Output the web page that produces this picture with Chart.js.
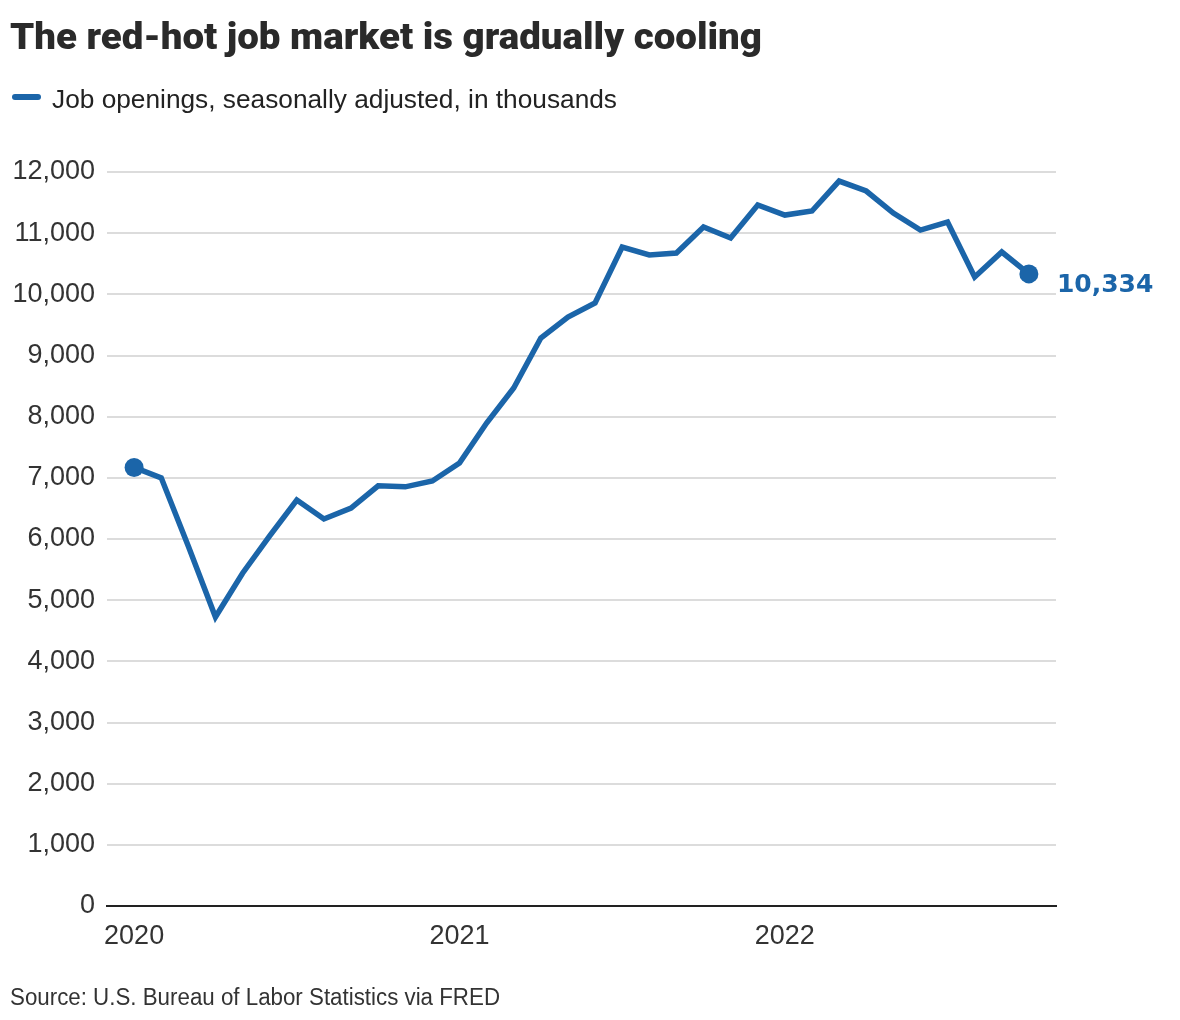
<!DOCTYPE html>
<html>
<head>
<meta charset="utf-8">
<script src="https://cdn.jsdelivr.net/npm/chart.js@4"></script>
<style>
  body { margin: 0; background: #fff; }
  #wrap { position: relative; width: 1180px; height: 1020px; overflow: hidden; }
  #chart { position: absolute; left: 0; top: 0; }
  .txt { position: absolute; white-space: nowrap; line-height: 1; color: #222; }
  #title { left: 10px; top: 15px; font: 900 37px Roboto, "Liberation Sans", sans-serif; color: #2a2a2a; transform-origin: 0 0; }
  #legend { left: 52px; top: 85px; font: 25px "Liberation Sans", sans-serif; transform-origin: 0 0; }
  #swatch { position: absolute; left: 12px; top: 94px; width: 29px; height: 6px; border-radius: 3px; background: #1b65a9; }
  #source { left: 10px; top: 984px; font: 23px "Liberation Sans", sans-serif; color: #333; transform-origin: 0 0; }
</style>
</head>
<body>
<div id="wrap">
  <canvas id="chart" width="1180" height="1020"></canvas>
  <div class="txt" id="title">The red-hot job market is gradually cooling</div>
  <div id="swatch"></div>
  <div class="txt" id="legend">Job openings, seasonally adjusted, in thousands</div>
  <div class="txt" id="source">Source: U.S. Bureau of Labor Statistics via FRED</div>
</div>
<script>
// months since Jan 2020 (0 = Jan 2020 ... 33 = Oct 2022)
const months = [0, 1, 2, 3, 4, 5, 6, 7, 8, 9, 10, 11,
                12, 13, 14, 15, 16, 17, 18, 19, 20, 21, 22, 23,
                24, 25, 26, 27, 28, 29, 30, 31, 32, 33];
// job openings, thousands
const openings = [7170, 7000, 5880, 4725, 5440, 6050, 6637, 6327, 6506, 6870, 6853, 6948,
                  7242, 7896, 8468, 9286, 9629, 9858, 10773, 10643, 10675, 11100, 10920, 11460,
                  11296, 11362, 11852, 11689, 11329, 11051, 11182, 10283, 10692, 10334];
const yearTicks = [0, 12, 24];
const yearLabels = ['2020', '2021', '2022'];

const BLUE = '#1b65a9';
const lastIdx = openings.length - 1;

// fit html texts to the widths they have in the original
function fitWidth(id, target) {
    const el = document.getElementById(id);
    const w = el.getBoundingClientRect().width;
    if (w > 0) el.style.transform = `scaleX(${target / w})`;
}
fitWidth('title', 752);
fitWidth('legend', 565);
fitWidth('source', 490);

const endLabel = {
    id: 'endLabel',
    afterDatasetsDraw(chart) {
        const pt = chart.getDatasetMeta(0).data[lastIdx];
        const ctx = chart.ctx;
        ctx.save();
        ctx.font = 'bold 25px "DejaVu Sans", sans-serif';
        ctx.fillStyle = BLUE;
        ctx.textBaseline = 'middle';
        ctx.textAlign = 'left';
        ctx.fillText(openings[lastIdx].toLocaleString('en-US'), pt.x + 28, pt.y + 12);
        ctx.restore();
    }
};

new Chart(document.getElementById('chart'), {
    type: 'line',
    data: {
        datasets: [{
            data: months.map((m, i) => ({ x: m, y: openings[i] })),
            borderColor: BLUE,
            backgroundColor: BLUE,
            borderWidth: 5.5,
            borderJoinStyle: 'miter',
            pointRadius: openings.map((v, i) => (i === 0 || i === lastIdx) ? 9.5 : 0),
            pointBorderWidth: 0,
            tension: 0
        }]
    },
    options: {
        responsive: false,
        animation: false,
        events: [],
        layout: { padding: { top: 172, right: 124, bottom: 40, left: 0 } },
        plugins: { legend: { display: false }, tooltip: { enabled: false } },
        scales: {
            x: {
                type: 'linear',
                min: -1,
                max: 34,
                afterBuildTicks: s => { s.ticks = yearTicks.map(v => ({ value: v })); },
                afterFit: s => { s.height = 74; },
                grid: { display: false, drawTicks: false },
                border: { display: true, color: '#222', width: 2 },
                ticks: {
                    autoSkip: false,
                    maxRotation: 0,
                    padding: 14,
                    color: '#333',
                    font: { family: '"Liberation Sans", sans-serif', size: 27 },
                    callback: v => yearLabels[yearTicks.indexOf(v)]
                }
            },
            y: {
                min: 0,
                max: 12000,
                afterFit: s => { s.width = 107; },
                grid: {
                    drawTicks: false,
                    lineWidth: 2,
                    color: c => c.tick.value === 0 ? 'rgba(0,0,0,0)' : '#dcdcdc'
                },
                border: { display: false },
                ticks: {
                    stepSize: 1000,
                    padding: 12,
                    color: '#333',
                    font: { family: '"Liberation Sans", sans-serif', size: 27 },
                    callback: v => v.toLocaleString('en-US')
                }
            }
        }
    },
    plugins: [endLabel]
});
</script>
</body>
</html>
